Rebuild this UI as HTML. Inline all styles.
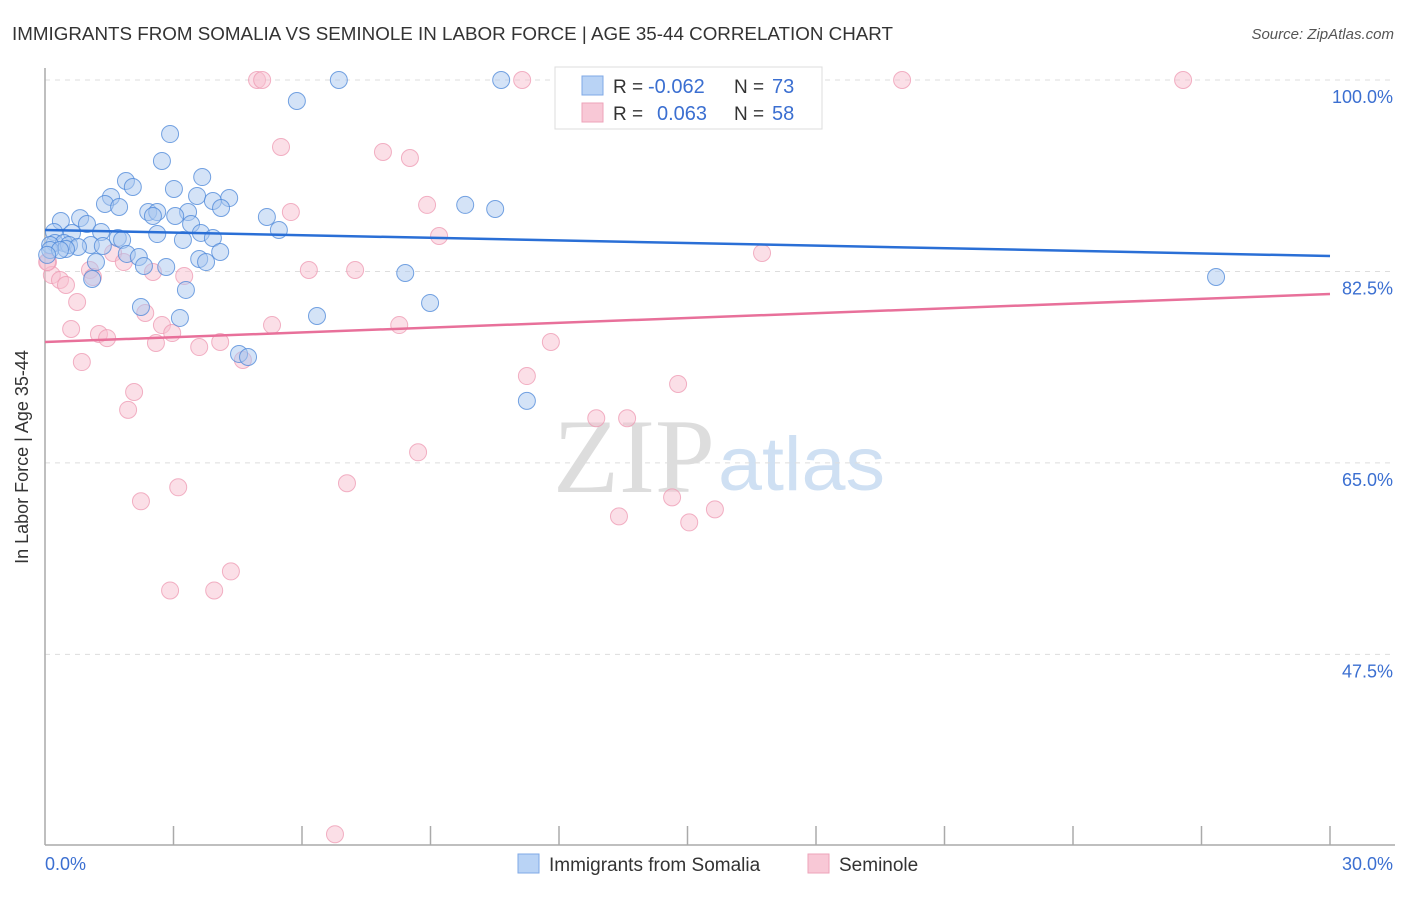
<!DOCTYPE html>
<html><head><meta charset="utf-8"><style>
body{margin:0;background:#fff;font-family:"Liberation Sans",sans-serif;}
</style></head><body>
<svg id="chart" width="1406" height="892" xmlns="http://www.w3.org/2000/svg">
<text x="12" y="40" font-size="18" fill="#333" textLength="881" lengthAdjust="spacingAndGlyphs">IMMIGRANTS FROM SOMALIA VS SEMINOLE IN LABOR FORCE | AGE 35-44 CORRELATION CHART</text>
<text x="1394" y="39" font-size="15" fill="#555" font-style="italic" text-anchor="end">Source: ZipAtlas.com</text>
<text x="553" y="492" font-size="106" font-family="Liberation Serif,serif" fill="#ddd" textLength="162" lengthAdjust="spacingAndGlyphs">ZIP</text>
<text x="718" y="490" font-size="76" fill="#cfe0f3" textLength="167" lengthAdjust="spacingAndGlyphs">atlas</text>
<g id="grid"></g>
<g id="axes"></g>
<g id="marks"></g>
<text x="28" y="457" font-size="18" fill="#333" text-anchor="middle" transform="rotate(-90 28 457)">In Labor Force | Age 35-44</text>
<g>
<rect x="555" y="67" width="267" height="62" fill="#fff" stroke="#ddd"/>
<rect x="582" y="76" width="21" height="19" fill="#b9d3f5" stroke="#7fa8e6"/>
<rect x="582" y="103" width="21" height="19" fill="#f8c8d6" stroke="#eea3ba"/>
<text x="613" y="93" font-size="19" fill="#333">R = </text><text x="648" y="93" font-size="20" fill="#3b6fd1">-0.062</text>
<text x="734" y="93" font-size="19" fill="#333">N = </text><text x="772" y="93" font-size="20" fill="#3b6fd1">73</text>
<text x="613" y="120" font-size="19" fill="#333">R = </text><text x="657" y="120" font-size="20" fill="#3b6fd1">0.063</text>
<text x="734" y="120" font-size="19" fill="#333">N = </text><text x="772" y="120" font-size="20" fill="#3b6fd1">58</text>
</g>
<g>
<rect x="518" y="854" width="21" height="19" fill="#b9d3f5" stroke="#7fa8e6"/>
<text x="549" y="871" font-size="19" fill="#333">Immigrants from Somalia</text>
<rect x="808" y="854" width="21" height="19" fill="#f8c8d6" stroke="#eea3ba"/>
<text x="839" y="871" font-size="19" fill="#333">Seminole</text>
</g>
</svg>
<script>
const yTicks=[100,82.5,65,47.5];
const yTickLabels=["100.0%","82.5%","65.0%","47.5%"];
const xTicks=[0,3,6,9,12,15,18,21,24,27,30];
const xTickLabels=["0.0%","30.0%"];
const somaliaX=[6.86,10.65,5.88,2.92,2.73,3.67,1.89,2.05,3.01,1.54,3.55,4.30,3.92,4.11,1.40,1.73,2.41,2.62,2.52,3.34,3.04,0.37,0.82,0.98,5.18,3.41,5.46,9.81,10.51,0.21,1.31,0.63,2.62,3.64,1.70,3.22,3.92,1.80,0.23,0.44,0.56,0.12,1.07,0.77,1.35,0.49,4.09,1.91,2.19,3.60,3.76,1.19,2.31,2.83,8.41,1.10,3.29,8.99,2.24,6.35,3.15,4.53,4.74,11.25,27.34,0.12,0.35,0.05];
const somaliaY=[100,100,98.08,95.06,92.60,91.13,90.77,90.22,90.04,89.31,89.40,89.21,88.94,88.30,88.67,88.39,87.93,87.93,87.57,87.93,87.57,87.11,87.38,86.84,87.48,86.84,86.29,88.58,88.21,86.11,86.11,86.02,85.92,86.02,85.56,85.38,85.56,85.38,85.10,85.10,84.92,84.92,84.92,84.74,84.83,84.55,84.28,84.10,83.82,83.64,83.36,83.36,83.00,82.91,82.36,81.81,80.81,79.62,79.25,78.43,78.25,74.96,74.68,70.67,81.99,84.46,84.46,84.01];
const seminoleX=[4.95,5.07,11.14,20.01,26.57,5.51,7.89,8.52,5.74,8.92,9.20,16.74,6.16,7.24,0.07,0.16,0.35,0.49,1.59,1.84,2.52,1.05,1.12,3.25,0.75,2.34,2.73,2.97,5.30,8.27,0.61,1.26,1.45,2.59,3.60,4.09,4.62,11.81,0.86,2.08,1.94,11.25,14.78,12.87,13.59,8.71,7.05,3.11,2.24,14.64,15.64,13.40,15.04,4.34,2.92,3.95,6.77,0.05];
const seminoleY=[100,100,100,100,100,93.88,93.42,92.87,87.93,88.58,85.74,84.19,82.63,82.63,83.36,82.17,81.72,81.26,84.19,83.36,82.45,82.63,81.99,82.08,79.71,78.70,77.60,76.87,77.60,77.60,77.24,76.78,76.41,75.96,75.59,76.05,74.41,76.05,74.22,71.48,69.85,72.94,72.21,69.08,69.08,65.97,63.14,62.77,61.49,61.85,60.75,60.11,59.56,55.08,53.34,53.34,31.06,83.36];
const somaliaTrend=[86.29,83.91];
const seminoleTrend=[76.05,80.44];
const trendX=[0,30];

const NS="http://www.w3.org/2000/svg";
const X0=45,X1=1330,Y0=80,PXY=10.94;
function sx(v){return X0+(v-0)/30*(X1-X0);}
function sy(v){return Y0+(100-v)*PXY;}
function mk(tag,attrs,parent){const e=document.createElementNS(NS,tag);for(const k in attrs)e.setAttribute(k,attrs[k]);parent.appendChild(e);return e;}
const grid=document.getElementById('grid'),axes=document.getElementById('axes'),marks=document.getElementById('marks');
yTicks.forEach((t,i)=>{
 const l=mk('line',{x1:X0,x2:1395,y1:sy(t),y2:sy(t),stroke:'#ddd','stroke-dasharray':'5,5'},grid);
 
 
 const tx=mk('text',{x:1393,y:sy(t)+23,'font-size':18,fill:'#3b6fd1','text-anchor':'end'},grid);
 tx.textContent=yTickLabels[i];
 
 
});
const ax=mk('line',{x1:X0,x2:X0,y1:68,y2:845,stroke:'#aaa','stroke-width':1.5},axes);


const bx=mk('line',{x1:X0,x2:1395,y1:845,y2:845,stroke:'#aaa','stroke-width':1.5},axes);


xTicks.forEach(t=>{
 if(t===0)return;
 const l=mk('line',{x1:sx(t),x2:sx(t),y1:826,y2:845,stroke:'#aaa','stroke-width':1.5},axes);
 
 
});
const xl0=mk('text',{x:X0,y:870,'font-size':18,fill:'#3b6fd1'},axes);xl0.textContent=xTickLabels[0];


const xl1=mk('text',{x:1393,y:870,'font-size':18,fill:'#3b6fd1','text-anchor':'end'},axes);xl1.textContent=xTickLabels[1];


function pts(xs,ys,fill,stroke,name){
 xs.forEach((x,i)=>{
  const c=mk('circle',{cx:sx(x),cy:sy(ys[i]),r:8.5,fill:fill,'fill-opacity':0.5,stroke:stroke,'stroke-opacity':0.75,'stroke-width':1},marks);
  
  
 });
}
pts(seminoleX,seminoleY,'#f8c0d0','#ee98b2','seminole-point');
pts(somaliaX,somaliaY,'#a9c8f0','#4a86d8','somalia-point');
const t1=mk('line',{x1:sx(trendX[0]),x2:sx(trendX[1]),y1:sy(somaliaTrend[0]),y2:sy(somaliaTrend[1]),stroke:'#2a6fd6','stroke-width':2.5},marks);


const t2=mk('line',{x1:sx(trendX[0]),x2:sx(trendX[1]),y1:sy(seminoleTrend[0]),y2:sy(seminoleTrend[1]),stroke:'#e8709a','stroke-width':2.5},marks);


</script>
</body></html>
